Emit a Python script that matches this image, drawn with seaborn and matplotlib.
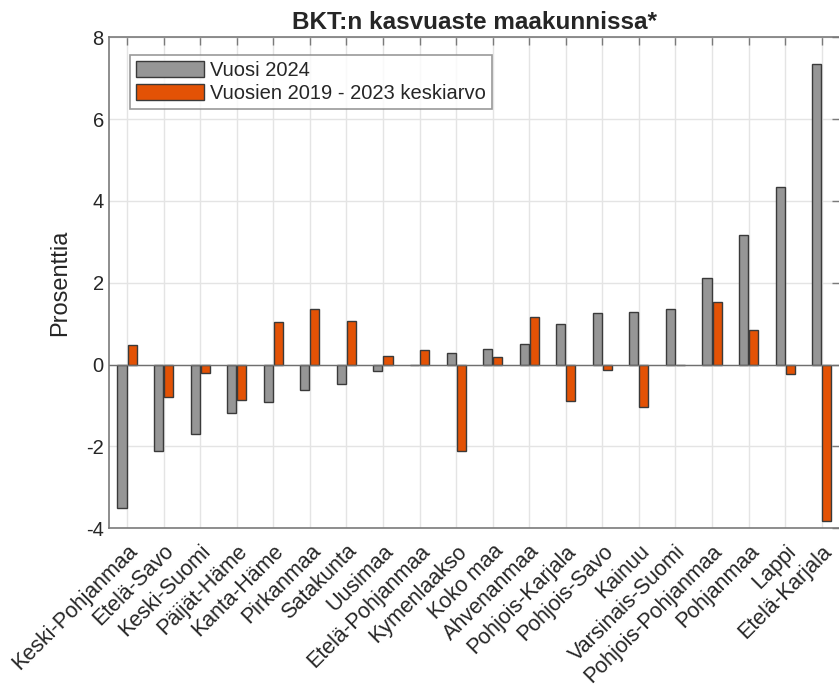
import numpy as np
import pandas as pd
import matplotlib
matplotlib.use("Agg")
import matplotlib.pyplot as plt
import seaborn as sns

regions = ["Keski-Pohjanmaa", "Etelä-Savo", "Keski-Suomi", "Päijät-Häme", "Kanta-Häme",
           "Pirkanmaa", "Satakunta", "Uusimaa", "Etelä-Pohjanmaa", "Kymenlaakso",
           "Koko maa", "Ahvenanmaa", "Pohjois-Karjala", "Pohjois-Savo", "Kainuu",
           "Varsinais-Suomi", "Pohjois-Pohjanmaa", "Pohjanmaa", "Lappi", "Etelä-Karjala"]
vuosi_2024 = [-3.50, -2.10, -1.70, -1.17, -0.92, -0.61, -0.48, -0.16, -0.01, 0.28,
              0.38, 0.51, 0.99, 1.25, 1.29, 1.37, 2.12, 3.16, 4.34, 7.34]
keskiarvo_2019_2023 = [0.47, -0.79, -0.21, -0.86, 1.03, 1.37, 1.06, 0.20, 0.36, -2.12,
                       0.19, 1.17, -0.89, -0.12, -1.03, 0.00, 1.53, 0.85, -0.24, -3.81]
series_names = ["Vuosi 2024", "Vuosien 2019 - 2023 keskiarvo"]
series_colors = ["#969696", "#E35205"]
title = "BKT:n kasvuaste maakunnissa*"
ylabel = "Prosenttia"
yticks = [-4, -2, 0, 2, 4, 6, 8]

sns.set_theme(style="white")
plt.rcParams["font.family"] = ["Liberation Sans", "DejaVu Sans"]

df = pd.DataFrame({
    "Maakunta": regions * 2,
    "Arvo": vuosi_2024 + keskiarvo_2019_2023,
    "Sarja": [series_names[0]] * len(regions) + [series_names[1]] * len(regions),
})

fig = plt.figure(figsize=(8.39, 6.86), dpi=100)
ax = fig.add_axes([0.1296, 0.2299, 0.8716, 0.7157])

sns.barplot(data=df, x="Maakunta", y="Arvo", hue="Sarja", order=regions,
            hue_order=series_names, palette=series_colors, width=0.55, gap=0.1,
            edgecolor="#3a3a3a", linewidth=1.0, saturation=1, errorbar=None, ax=ax)

ax.axhline(0, color="#6f6f6f", lw=1.0, zorder=1.5)
ax.set_xlim(-0.5, len(regions) - 0.5)
ax.set_ylim(-4, 8)
ax.set_yticks(yticks)
ax.set_yticklabels([str(v) for v in yticks])
ax.set_axisbelow(True)
ax.grid(True, color="#e4e4e4", lw=1.0)
ax.set_xlabel("")
ax.set_ylabel(ylabel, fontsize=17, color="#262626", labelpad=11)
ax.set_title(title, fontsize=17.5, fontweight="bold", color="#262626", pad=6)

for s in ax.spines.values():
    s.set_color("#7a7a7a")
    s.set_linewidth(1.2)

ax.tick_params(direction="in", length=6, width=1.0, top=True, right=True,
               color="#7a7a7a", labelcolor="#262626", labelsize=14.5)
ax.tick_params(axis="x", pad=9, labelsize=15.5)
plt.setp(ax.get_xticklabels(), rotation=45, ha="right", va="top",
         rotation_mode="anchor")

leg = ax.legend(loc="upper left", bbox_to_anchor=(0.029, 0.964), frameon=True,
                fancybox=False, edgecolor="#808080", fontsize=14.5,
                handlelength=3.4, handleheight=0.85, borderaxespad=0,
                borderpad=0.3, labelspacing=0.2, handletextpad=0.3)
leg.get_frame().set_linewidth(1.2)
for t in leg.get_texts():
    t.set_color("#262626")

fig.savefig("out.png", dpi=100)
